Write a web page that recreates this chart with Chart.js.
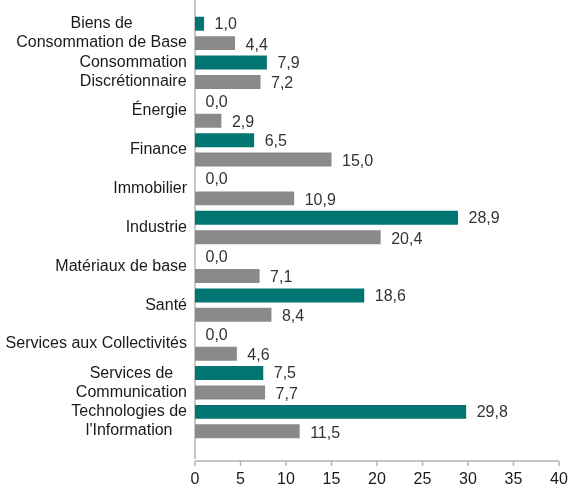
<!DOCTYPE html>
<html>
<head>
<meta charset="utf-8">
<script src="https://cdn.jsdelivr.net/npm/chart.js@4"></script>
<style>
  html, body { margin: 0; padding: 0; background: #fff; }
  #wrap { width: 570px; height: 488px; }
</style>
</head>
<body>
<div id="wrap"><canvas id="chart" width="570" height="488"></canvas></div>
<script>
const categories = [
  ["Biens de", "Consommation de Base"],
  ["Consommation", "Discrétionnaire"],
  ["Énergie"],
  ["Finance"],
  ["Immobilier"],
  ["Industrie"],
  ["Matériaux de base"],
  ["Santé"],
  ["Services aux Collectivités"],
  ["Services de", "Communication"],
  ["Technologies de", "l'Information"]
];
const seriesA = [1.0, 7.9, 0.0, 6.5, 0.0, 28.9, 0.0, 18.6, 0.0, 7.5, 29.8];
const seriesB = [4.4, 7.2, 2.9, 15.0, 10.9, 20.4, 7.1, 8.4, 4.6, 7.7, 11.5];
const xTicks = [0, 5, 10, 15, 20, 25, 30, 35, 40];

const FONT = "'Liberation Sans', Arial, sans-serif";
const AXIS_COLOR = "#b4b4b4";

// axis lines drawn by hand: the x axis sits a little below the plot area
const axisLines = {
  id: "axisLines",
  beforeDatasetsDraw(chart) {
    const { ctx, chartArea, scales } = chart;
    const x0 = scales.x.getPixelForValue(0);
    const yAxis = chartArea.bottom + 20;
    ctx.save();
    ctx.strokeStyle = AXIS_COLOR;
    ctx.lineWidth = 1.5;
    ctx.beginPath();
    ctx.moveTo(x0, 0);
    ctx.lineTo(x0, yAxis - 2);
    ctx.stroke();
    ctx.beginPath();
    ctx.moveTo(x0, yAxis);
    ctx.lineTo(scales.x.getPixelForValue(40), yAxis);
    xTicks.forEach((t) => {
      const px = scales.x.getPixelForValue(t);
      ctx.moveTo(px, yAxis);
      ctx.lineTo(px, yAxis + 5);
    });
    ctx.stroke();
    ctx.restore();
  }
};

// category labels: block right aligned, lines centred inside the block
const catLabels = {
  id: "catLabels",
  afterDraw(chart) {
    const { ctx, scales } = chart;
    const right = scales.x.getPixelForValue(0) - 8;
    const lh = 19;
    ctx.save();
    ctx.font = "16px " + FONT;
    ctx.fillStyle = "#1a1a1a";
    ctx.textAlign = "center";
    ctx.textBaseline = "middle";
    categories.forEach((lines, i) => {
      const cy = scales.y.getPixelForTick(i);
      const w = Math.max(...lines.map((l) => ctx.measureText(l).width));
      const cx = right - w / 2;
      const top = cy - (lines.length - 1) * lh / 2;
      lines.forEach((l, j) => ctx.fillText(l, cx, top + j * lh));
    });
    ctx.restore();
  }
};

// value labels at the end of each bar
const valueLabels = {
  id: "valueLabels",
  afterDatasetsDraw(chart) {
    const { ctx } = chart;
    ctx.save();
    ctx.font = "16px " + FONT;
    ctx.fillStyle = "#333";
    ctx.textAlign = "left";
    ctx.textBaseline = "middle";
    chart.data.datasets.forEach((ds, di) => {
      chart.getDatasetMeta(di).data.forEach((bar, i) => {
        const txt = ds.data[i].toFixed(1).replace(".", ",");
        ctx.fillText(txt, bar.x + 10.5, bar.y + (di === 0 ? 1 : 2));
      });
    });
    ctx.restore();
  }
};

new Chart(document.getElementById("chart"), {
  type: "bar",
  data: {
    labels: categories,
    datasets: [
      { data: seriesA, backgroundColor: "#007572", categoryPercentage: 1, barPercentage: 0.72 },
      { data: seriesB, backgroundColor: "#8a8a8a", categoryPercentage: 1, barPercentage: 0.72 }
    ]
  },
  options: {
    indexAxis: "y",
    responsive: false,
    animation: false,
    layout: { padding: { top: 14, right: 11, bottom: 0, left: 0 } },
    plugins: { legend: { display: false }, tooltip: { enabled: false } },
    scales: {
      x: {
        min: 0,
        max: 40,
        afterBuildTicks: (s) => { s.ticks = xTicks.map((v) => ({ value: v })); },
        grid: { display: false, drawTicks: false },
        border: { display: false },
        ticks: { padding: 29, maxRotation: 0, color: "#1a1a1a", font: { family: FONT, size: 16 } },
        afterFit: (s) => { s.height = 47; s.paddingLeft = 0; s.paddingRight = 0; }
      },
      y: {
        grid: { display: false, drawTicks: false },
        border: { display: false },
        ticks: { display: false },
        afterFit: (s) => { s.width = 195; }
      }
    }
  },
  plugins: [axisLines, valueLabels, catLabels]
});
</script>
</body>
</html>
